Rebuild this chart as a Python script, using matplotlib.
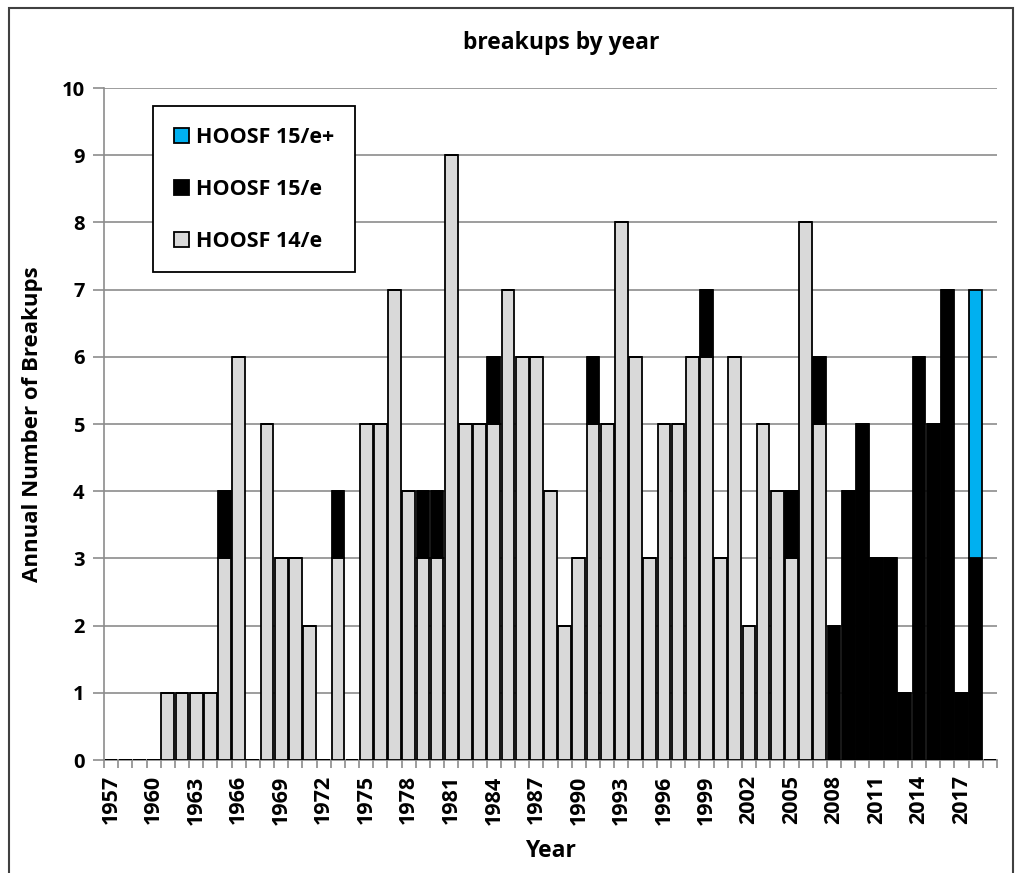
import matplotlib
matplotlib.use("Agg")
import matplotlib.pyplot as plt
from matplotlib.patches import Rectangle
import numpy as np

plt.rcParams['font.family'] = ['Open Sans', 'DejaVu Sans']
plt.rcParams['font.weight'] = 'bold'

# data (1957-2019)
years = list(range(1957, 2020))
hoosf14 = [0, 0, 0, 0, 1, 1, 1, 1, 3, 6,
           0, 5, 3, 3, 2, 0, 3, 0, 5, 5,
           7, 4, 3, 3, 9, 5, 5, 5, 7, 6,
           6, 4, 2, 3, 5, 5, 8, 6, 3, 5,
           5, 6, 6, 3, 6, 2, 5, 4, 3, 8,
           5, 0, 0, 0, 0, 0, 0, 0, 0, 0,
           0, 0, 0]
hoosf15 = [0, 0, 0, 0, 0, 0, 0, 0, 1, 0,
           0, 0, 0, 0, 0, 0, 1, 0, 0, 0,
           0, 0, 1, 1, 0, 0, 0, 1, 0, 0,
           0, 0, 0, 0, 1, 0, 0, 0, 0, 0,
           0, 0, 1, 0, 0, 0, 0, 0, 1, 0,
           1, 2, 4, 5, 3, 3, 1, 6, 5, 7,
           1, 3, 0]
hoosf15plus = [0] * 61 + [4, 0]

gray = "#d9d9d9"
blue = "#00b0f0"

fig = plt.figure(figsize=(10.15, 8.73), dpi=100)
ax = fig.add_axes([104 / 1015, 1 - 760 / 873, 893 / 1015, 672 / 873])

x = np.arange(len(years))
a14 = np.array(hoosf14)
a15 = np.array(hoosf15)
a15p = np.array(hoosf15plus)
w = 0.9

b14 = ax.bar(x, a14, width=w, color=gray, edgecolor="black", linewidth=1.3, zorder=3)
b15 = ax.bar(x, a15, width=w, bottom=a14, color="black", edgecolor="black", linewidth=1.3, zorder=3)
b15p = ax.bar(x, a15p, width=w, bottom=a14 + a15, color=blue, edgecolor="black", linewidth=1.3, zorder=3)

ax.set_xlim(-0.5, len(years) - 0.5)
ax.set_ylim(0, 10)
ax.set_yticks(range(0, 11))
ax.yaxis.grid(True, color="#8c8c8c", linewidth=1.2, zorder=0)
ax.set_axisbelow(True)

ax.set_xticks(x[::3])
ax.set_xticklabels([str(y) for y in years[::3]], rotation=90, fontsize=15.5, fontweight="bold")
ax.set_xticks(np.arange(-0.5, len(years)), minor=True)
ax.tick_params(axis="x", which="major", length=0, pad=11)
ax.tick_params(axis="x", which="minor", length=6, color="#8c8c8c", width=1.2)
ax.tick_params(axis="y", length=8, color="#8c8c8c", width=1.2, labelsize=14.5, pad=6)
for lab in ax.get_yticklabels():
    lab.set_fontweight("bold")

for side in ["top", "right"]:
    ax.spines[side].set_visible(False)
for side in ["left", "bottom"]:
    ax.spines[side].set_color("#8c8c8c")
    ax.spines[side].set_linewidth(1.2)

ax.set_title("breakups by year", fontsize=16.5, fontweight="bold",
             x=(561 - 104) / 893, pad=28)
ax.set_ylabel("Annual Number of Breakups", fontsize=16, fontweight="bold", labelpad=13)
ax.set_xlabel("Year", fontsize=16.5, fontweight="bold", labelpad=10)

leg = ax.legend([b15p, b15, b14], ["HOOSF 15/e+", "HOOSF 15/e", "HOOSF 14/e"],
                loc="upper left", bbox_to_anchor=(0.055, 0.973), borderaxespad=0,
                labelspacing=1.45, handlelength=0.7, handleheight=0.7,
                handletextpad=0.35, borderpad=0.95, fancybox=False, framealpha=1,
                edgecolor="black", prop={"family": ["Open Sans", "DejaVu Sans"],
                                         "weight": "bold", "size": 15.5})
leg.get_frame().set_linewidth(1.3)
leg.set_zorder(5)

# outer chart border
fig.patches.append(Rectangle((9 / 1015, -0.1), 1004 / 1015, 1.1 - 8 / 873,
                             transform=fig.transFigure, fill=False,
                             edgecolor="#404040", linewidth=1.5))

fig.savefig("out.png", dpi=100)
